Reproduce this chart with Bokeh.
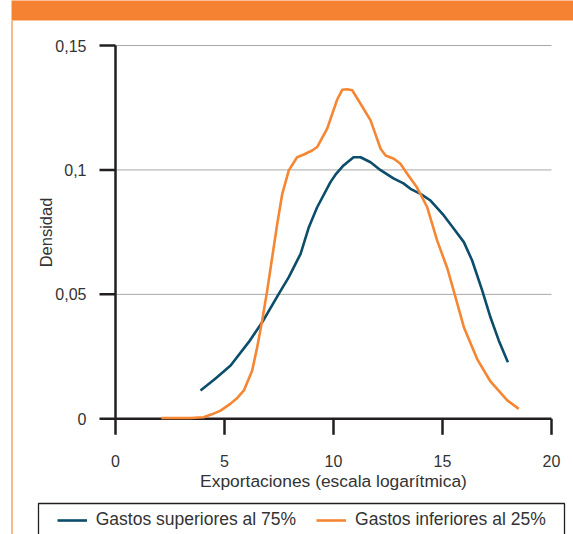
from bokeh.plotting import figure
from bokeh.models import Range1d, Legend, LegendItem
from bokeh.core.properties import value
from bokeh.embed import file_html
from bokeh.resources import INLINE

# Data
x_top = [3.90, 4.59, 5.28, 6.11, 6.73, 7.49, 7.95, 8.49, 8.87, 9.25, 9.86, 10.09,
         10.46, 10.92, 11.24, 11.70, 12.16, 12.75, 13.21, 13.53, 13.99, 14.45,
         15.06, 15.52, 15.98, 16.36, 16.82, 17.20, 17.58, 18.00]
y_top = [0.0114, 0.0162, 0.0214, 0.0308, 0.0388, 0.0502, 0.0569, 0.0663, 0.0770,
         0.0850, 0.0951, 0.0981, 0.1018, 0.1051, 0.1051, 0.1031, 0.0999, 0.0966,
         0.0946, 0.0924, 0.0904, 0.0877, 0.0817, 0.0764, 0.0710, 0.0636, 0.0516,
         0.0408, 0.0315, 0.0227]

x_bottom = [2.10, 3.44, 4.04, 4.45, 4.82, 5.28, 5.60, 5.89, 6.27, 6.50, 6.73, 6.96,
            7.19, 7.42, 7.65, 7.95, 8.33, 8.64, 9.02, 9.25, 9.71, 10.17, 10.40,
            10.63, 10.86, 11.24, 11.70, 12.16, 12.39, 12.77, 13.07, 13.38, 13.84,
            14.30, 14.76, 15.22, 15.56, 15.98, 16.59, 17.20, 17.97, 18.50]
y_bottom = [0.0003, 0.0003, 0.0006, 0.0019, 0.0033, 0.0061, 0.0085, 0.0114, 0.0194,
            0.0288, 0.0395, 0.0516, 0.0650, 0.0784, 0.0904, 0.0998, 0.1051, 0.1062,
            0.1078, 0.1092, 0.1166, 0.1283, 0.1322, 0.1324, 0.1320, 0.1266, 0.1199,
            0.1085, 0.1058, 0.1045, 0.1025, 0.0985, 0.0928, 0.0850, 0.0715, 0.0605,
            0.0500, 0.0368, 0.0240, 0.0150, 0.0074, 0.0040]

x_ticks = [0, 5, 10, 15, 20]
x_tick_labels = ["0", "5", "10", "15", "20"]
y_ticks = [0, 0.05, 0.1, 0.15]
y_tick_labels = ["0", "0,05", "0,1", "0,15"]
series_names = ["Gastos superiores al 75%", "Gastos inferiores al 25%"]
x_title = "Exportaciones (escala logarítmica)"
y_title = "Densidad"

BLUE = "#0b4d6b"
ORANGE = "#f58633"
BAND = "#f58233"
INK = "#231f20"
TXT = "#333333"
GRID = "#a8a8a8"
FONT = "Liberation Sans"

W, H = 573, 534
# layout: pixel position of the axis origin and pixels per unit
PX0, PY0 = 115.0, 418.3
KX = (551.0 - 115.0) / (x_ticks[-1] - x_ticks[0])
KY = (418.3 - 45.0) / (y_ticks[-1] - y_ticks[0])


def sx(px):
    return (px - PX0) / KX


def sy(py):
    return (PY0 - py) / KY


p = figure(width=W, height=H, output_backend="svg", toolbar_location=None,
           title=None, x_range=Range1d(sx(0), sx(W)), y_range=Range1d(sy(H), sy(0)),
           x_axis_type=None, y_axis_type=None, min_border=0,
           background_fill_color="white", border_fill_color="white")
p.outline_line_color = None
p.grid.visible = False

TICK = 16  # px
x_lo, x_hi = x_ticks[0], x_ticks[-1]
y_lo, y_hi = y_ticks[0], y_ticks[-1]

# orange header band and thin left rule
p.quad(left=[sx(11)], right=[sx(W + 5)], top=[sy(-5)], bottom=[sy(20)],
       fill_color=BAND, line_color=None)
p.segment(x0=[sx(11.5)], y0=[sy(20)], x1=[sx(11.5)], y1=[sy(H + 5)],
          line_color="#f7a466", line_width=1.5)

# horizontal gridlines
gy = [t for t in y_ticks if t != y_lo]
p.segment(x0=[x_lo] * len(gy), y0=gy, x1=[x_hi] * len(gy), y1=gy,
          line_color=GRID, line_width=1)

# axes lines and ticks
p.segment(x0=[x_lo, x_lo], y0=[y_lo, y_lo], x1=[x_hi, x_lo], y1=[y_lo, y_hi],
          line_color=INK, line_width=2.5)
p.segment(x0=x_ticks, y0=[y_lo] * len(x_ticks), x1=x_ticks,
          y1=[y_lo - TICK / KY] * len(x_ticks), line_color=INK, line_width=2.5)
p.segment(x0=[x_lo - TICK / KX] * len(y_ticks), y0=y_ticks, x1=[x_lo] * len(y_ticks),
          y1=y_ticks, line_color=INK, line_width=2.5)

# tick labels
p.text(x=x_ticks, y=[sy(460.5)] * len(x_ticks), text=x_tick_labels,
       text_font=value(FONT), text_font_size=value("16px"), text_color=TXT,
       text_align="center", text_baseline="middle")
p.text(x=[sx(86)] * len(y_ticks), y=y_ticks, text=y_tick_labels,
       text_font=value(FONT), text_font_size=value("16px"), text_color=TXT,
       text_align="right", text_baseline="middle")

# axis titles
p.text(x=[(x_lo + x_hi) / 2], y=[sy(480.5)], text=[x_title],
       text_font=value(FONT), text_font_size=value("17.4px"), text_color=TXT,
       text_align="center", text_baseline="middle")
p.text(x=[sx(45.8)], y=[sy(232)], text=[y_title], angle=1.5708,
       text_font=value(FONT), text_font_size=value("16.5px"), text_color=TXT,
       text_align="center", text_baseline="middle")

# data lines
r1 = p.line(x_top, y_top, line_color=BLUE, line_width=2.6, line_join="round")
r2 = p.line(x_bottom, y_bottom, line_color=ORANGE, line_width=2.6, line_join="round")

# legend box
p.quad(left=[sx(38)], right=[sx(564)], top=[sy(503)], bottom=[sy(H + 10)],
       fill_color=None, line_color=INK, line_width=1.3)

legend = Legend(items=[LegendItem(label=series_names[0], renderers=[r1]),
                       LegendItem(label=series_names[1], renderers=[r2])],
                orientation="horizontal", location=(56.7, H - 530),
                label_text_font=FONT, label_text_font_size="17.5px",
                label_text_color=TXT, spacing=20, glyph_width=30, glyph_height=20,
                label_height=20, label_standoff=9, padding=0, margin=0,
                border_line_alpha=0, background_fill_alpha=0)
p.add_layout(legend)

open("out.html", "w").write(file_html(p, INLINE))
